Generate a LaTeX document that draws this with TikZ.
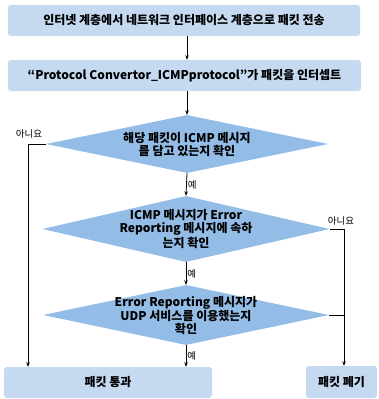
\documentclass[tikz,border=0pt]{standalone}
\usepackage{fontspec}
\setmainfont{Noto Sans CJK KR}
\usetikzlibrary{arrows.meta, calc, shapes.geometric}
\definecolor{boxblue}{RGB}{197,217,241}
\definecolor{diablue}{RGB}{147,188,230}
\tikzset{
  box/.style={fill=boxblue, rounded corners=3pt, inner sep=0pt, font=\fontsize{12}{14}\selectfont\bfseries},
  dia/.style={diamond, fill=diablue, inner sep=0pt},
  diatext/.style={align=center, inner sep=0pt, font=\fontsize{12}{13}\selectfont\bfseries},
  arr/.style={-{Stealth[length=4.5pt, width=3.5pt]}, line width=0.8pt},
  small/.style={font=\fontsize{9.5}{11}\selectfont, inner sep=1pt}
}
\begin{document}
\begin{tikzpicture}[x=1pt, y=-1pt]
\useasboundingbox (0,0) rectangle (379,399);
\node[box, minimum width=352pt, minimum height=31pt] (b1) at (184,20.5) {인터넷 계층에서 네트워크 인터페이스 계층으로 패킷 전송};
\node[box, minimum width=353pt, minimum height=31pt] (b2) at (184.5,75.5) {“Protocol Convertor\_ICMPprotocol”가 패킷을 인터셉트};
\node[dia, minimum width=282pt, minimum height=58pt] (d1) at (187,144) {};
\node[diatext] (d1t) at (d1) {해당 패킷이 ICMP 메시지\\를 담고 있는지 확인};
\node[dia, minimum width=287pt, minimum height=66pt] (d2) at (186,229) {};
\node[diatext] (d2t) at (d2) {ICMP 메시지가 Error\\Reporting 메시지에 속하\\는지 확인};
\node[dia, minimum width=286pt, minimum height=60pt] (d3) at (186,315) {};
\node[diatext] (d3t) at (d3) {Error Reporting 메시지가\\UDP 서비스를 이용했는지\\확인};
\node[box, minimum width=208pt, minimum height=31pt] (pass) at (108,382.5) {패킷 통과};
\node[box, minimum width=71pt, minimum height=32pt] (drop) at (341.5,382) {패킷 폐기};
\coordinate (nl) at (28,145);
\coordinate (nr) at (344,230);
\draw[arr] (b1.south -| d1.north) -- (b2.north -| d1.north);
\draw[arr] (b2.south -| d1.north) -- (d1.north);
\draw[arr] (d1.south) -- node[small, right] (y1) {예} (d2.north);
\draw[arr] (d2.south) -- node[small, right] (y2) {예} (d3.north);
\draw[arr] (d3.south) -- node[small, right] (y3) {예} (pass.north -| d3.south);
\draw[arr] (d1.west) -- (d1.west -| nl) -- (nl |- pass.north);
\draw[line width=0.8pt] (d2.east) -- (d2.east -| nr);
\draw[line width=0.8pt] (d3.east) -- (d3.east -| nr);
\draw[arr] (d2.east -| nr) -- (nr |- drop.north);
\node[small] (n1) at (29,134) {아니요};
\node[small] (n2) at (341,221) {아니요};
\end{tikzpicture}
\end{document}
